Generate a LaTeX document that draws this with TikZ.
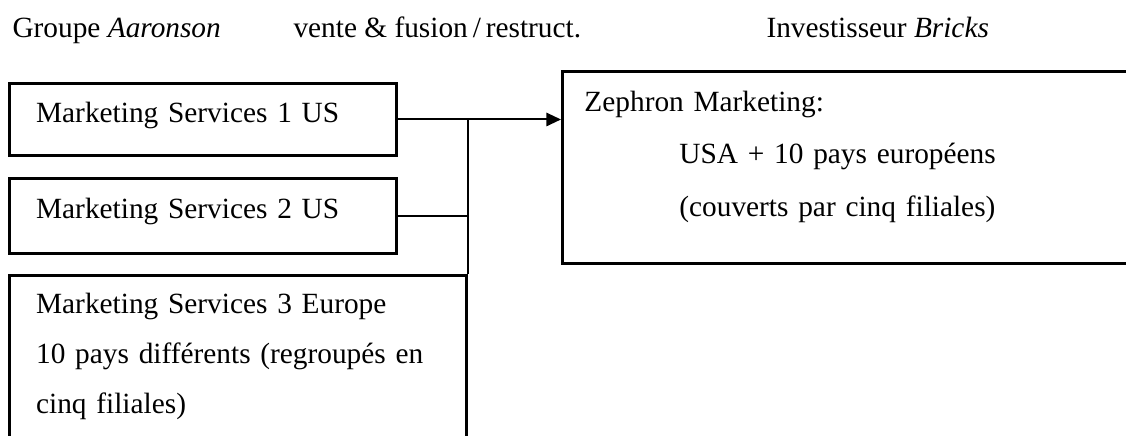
\documentclass[tikz,border=0pt]{standalone}
\usepackage{fontspec}
\setmainfont{Liberation Serif}
\usetikzlibrary{arrows.meta}

\begin{document}
\begin{tikzpicture}[x=0.375pt,y=-0.375pt,>={Triangle[length=5.5pt,width=5pt]},
  font=\fontsize{11}{13}\selectfont,
  hdr/.style={inner sep=0pt, anchor=base west},
  msbox/.style={draw, line width=1.1pt, anchor=north west, align=left,
    inner xsep=10pt, text width=125pt, minimum height=27pt,
    text height=7.6pt, text depth=5.4pt},
  link/.style={line width=0.75pt}]
  \clip (0,0) rectangle (1126,435);

  % headers
  \node[hdr] (grp) at (12,37)  {Groupe \textit{Aaronson}};
  \node[hdr] (op)  at (293,37) {vente \& fusion\,/\,restruct.};
  \node[hdr] (inv) at (766,37) {Investisseur \textit{Bricks}};

  % sold units
  \node[msbox]                          (ms1) at (8,82)  {Marketing Services 1 US};
  \node[msbox, minimum height=28.1pt]   (ms2) at (8,177) {Marketing Services 2 US};
  \node[msbox, text width=151.5pt, inner ysep=6.5pt, text height=7.6pt,
        text depth=50pt, font=\fontsize{11}{18.75}\selectfont]
                                        (ms3) at (8,274)
        {Marketing Services 3 Europe\\10 pays différents (regroupés en\\cinq filiales)};

  % buyer
  \node[draw, line width=1.1pt, anchor=north west, align=left,
        inner xsep=8.25pt, inner ysep=7.3pt, text width=200pt,
        text height=7.6pt, text depth=49.7pt,
        font=\fontsize{11}{19.7}\selectfont]
                                        (zeph) at (561,70)
        {Zephron Marketing:\\\hspace*{35.6pt}USA + 10 pays européens\\\hspace*{35.6pt}(couverts par cinq filiales)};

  \coordinate (jn) at (ms3.north east |- ms1.east);

  \draw[link,->] (ms1.east) -- (ms1.east -| zeph.west);
  \draw[link] (ms2.east) -- (ms2.east -| jn);
  \draw[link] (jn) -- (ms3.north east);

\end{tikzpicture}
\end{document}
